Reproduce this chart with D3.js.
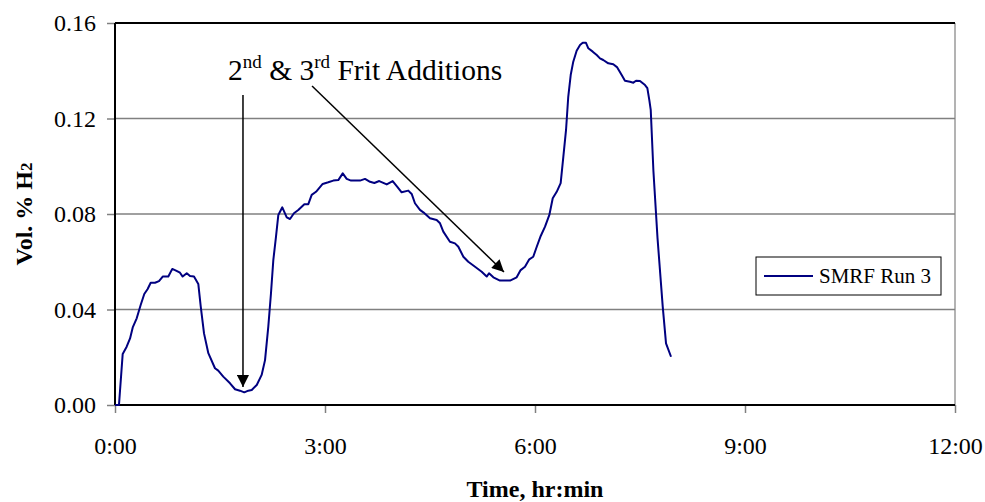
<!DOCTYPE html>
<html>
<head>
<meta charset="utf-8">
<script src="https://cdn.jsdelivr.net/npm/d3@7"></script>
<style>
  body { margin: 0; background: #fff; }
  text { font-family: "Liberation Serif", "Times New Roman", serif; fill: #000; }
</style>
</head>
<body>
<div class="chart"></div>
<script>
// time in minutes since start, H2 in vol. %
var timeMin = [0, 3.4, 6.6, 10.0, 12.9, 15.2, 18.6, 22.0, 25.1, 28.0, 30.6, 34.3, 37.7, 40.9, 45.7, 49.1,
  52.3, 55.7, 58.0, 61.5, 64.3, 67.7, 71.4, 73.5, 76.3, 80.0, 85.7, 88.5, 92.8, 98.6, 102.9, 107.1,
  110.8, 114.3, 117.2, 121.5, 125.7, 128.6, 131.4, 133.7, 135.7, 138.0, 140.0, 143.4, 147.2, 150.0,
  153.4, 157.1, 162.3, 165.7, 168.6, 172.3, 178.0, 182.8, 187.1, 191.4, 195.2, 198.6, 202.3, 210.0,
  214.3, 218.6, 222.3, 226.5, 232.9, 238.0, 242.0, 245.7, 251.4, 254.3, 257.1, 261.4, 264.3, 270.0,
  275.7, 278.6, 281.4, 287.1, 291.4, 294.3, 298.6, 302.8, 308.6, 314.3, 318.6, 320.6, 324.3, 330.0,
  338.6, 344.3, 347.7, 351.4, 355.1, 358.5, 361.5, 364.9, 368.6, 372.3, 375.2, 378.6, 382.0, 384.3,
  386.6, 388.5, 390.6, 392.8, 395.7, 398.6, 400.9, 403.7, 405.7, 409.5, 412.9, 415.7, 418.5, 422.8,
  427.1, 430.5, 434.3, 437.1, 441.4, 444.3, 446.6, 450.0, 454.3, 456.3, 458.0, 459.2, 461.5,
  465.0, 469.5, 472.3, 476.6];
var h2Vol = [0, 0, 0.0214, 0.0244, 0.0279, 0.0325, 0.0363, 0.0419, 0.0465, 0.0486, 0.0512, 0.0512,
  0.0519, 0.0538, 0.0538, 0.0570, 0.0563, 0.0554, 0.0538, 0.0552, 0.0540, 0.0538, 0.0507, 0.0412,
  0.0300, 0.0217, 0.0154, 0.0144, 0.0119, 0.0091, 0.0066, 0.0060, 0.0053, 0.0060, 0.0063, 0.0084,
  0.0126, 0.0188, 0.0328, 0.0468, 0.0607, 0.0705, 0.0796, 0.0828, 0.0786, 0.0779, 0.0803, 0.0817,
  0.0841, 0.0841, 0.0880, 0.0893, 0.0926, 0.0933, 0.0940, 0.0942, 0.0970, 0.0947, 0.0940, 0.0940,
  0.0947, 0.0935, 0.0930, 0.0938, 0.0924, 0.0938, 0.0914, 0.0891, 0.0898, 0.0884, 0.0845, 0.0817,
  0.0807, 0.0782, 0.0775, 0.0761, 0.0726, 0.0684, 0.0677, 0.0663, 0.0621, 0.0600, 0.0579, 0.0558,
  0.0538, 0.0552, 0.0535, 0.0521, 0.0521, 0.0535, 0.0565, 0.0579, 0.0610, 0.0621, 0.0663, 0.0708,
  0.0747, 0.0796, 0.0866, 0.0893, 0.0929, 0.1040, 0.1152, 0.1291, 0.1382, 0.1438, 0.1484, 0.1508,
  0.1517, 0.1517, 0.1494, 0.1480, 0.1466, 0.1452, 0.1445, 0.1431, 0.1427, 0.1414, 0.1382, 0.1358,
  0.1354, 0.1350, 0.1358, 0.1357, 0.1340, 0.1327, 0.1277, 0.1236, 0.0980,
  0.0700, 0.0411, 0.0258, 0.0202];

var xTickHours = [0, 3, 6, 9, 12];
var xTickLabels = ["0:00", "3:00", "6:00", "9:00", "12:00"];
var yTicks = [0, 0.04, 0.08, 0.12, 0.16];
var seriesName = "SMRF Run 3";

var svgWidth = 985;
var svgHeight = 502;
var margin = { top: 23, right: 30, bottom: 97, left: 115 };
var width = svgWidth - margin.left - margin.right;
var height = svgHeight - margin.top - margin.bottom;

var svg = d3.select(".chart")
  .append("svg")
  .attr("width", svgWidth)
  .attr("height", svgHeight);

var chartGroup = svg.append("g")
  .attr("transform", `translate(${margin.left}, ${margin.top})`);

var xScale = d3.scaleLinear().domain([0, 12]).range([0, width]);
var yScale = d3.scaleLinear().domain([0, 0.16]).range([height, 0]);

var data = timeMin.map((t, i) => ({ t: t / 60, v: h2Vol[i] }));

// gridlines
chartGroup.selectAll(".grid")
  .data(yTicks.slice(1, 4))
  .enter()
  .append("line")
  .attr("x1", 0).attr("x2", width)
  .attr("y1", d => yScale(d)).attr("y2", d => yScale(d))
  .attr("stroke", "#808080")
  .attr("stroke-width", 1.5);

// right border
chartGroup.append("line")
  .attr("x1", width).attr("x2", width)
  .attr("y1", 0).attr("y2", height)
  .attr("stroke", "#808080").attr("stroke-width", 1.2);

// axes
var leftAxis = d3.axisLeft(yScale).tickValues(yTicks).tickFormat(d3.format(".2f")).tickSize(8).tickPadding(11);
var bottomAxis = d3.axisBottom(xScale).tickValues(xTickHours)
  .tickFormat((d, i) => xTickLabels[i]).tickSize(8).tickPadding(24);

var yAxisG = chartGroup.append("g").call(leftAxis);
var xAxisG = chartGroup.append("g").attr("transform", `translate(0, ${height})`).call(bottomAxis);

[yAxisG, xAxisG].forEach(function(g) {
  g.select(".domain").remove();
  g.selectAll(".tick line").attr("stroke", "#808080").attr("stroke-width", 1.5);
  g.selectAll(".tick text")
    .style("font-family", "'Liberation Serif', 'Times New Roman', serif")
    .style("font-size", "24px")
    .attr("fill", "#000");
});

// black frame lines: left, bottom, top
chartGroup.append("line").attr("x1", 0).attr("x2", 0).attr("y1", 0).attr("y2", height)
  .attr("stroke", "#000").attr("stroke-width", 2);
chartGroup.append("line").attr("x1", 0).attr("x2", width).attr("y1", height).attr("y2", height)
  .attr("stroke", "#000").attr("stroke-width", 2);
chartGroup.append("line").attr("x1", 0).attr("x2", width).attr("y1", 0).attr("y2", 0)
  .attr("stroke", "#000").attr("stroke-width", 2);

// data line
var line = d3.line().x(d => xScale(d.t)).y(d => yScale(d.v));
chartGroup.append("path")
  .datum(data)
  .attr("d", line)
  .attr("fill", "none")
  .attr("stroke", "#000080")
  .attr("stroke-width", 2)
  .attr("stroke-linejoin", "round");

// annotation arrows (in data coords: hours, vol %)
var arrows = [
  { from: [109.7 / 60, 0.1298], to: [109.7 / 60, 0.0075] },
  { from: [168.9 / 60, 0.1336], to: [333.4 / 60, 0.0557] }
];
svg.append("defs").append("marker")
  .attr("id", "arrowhead")
  .attr("viewBox", "0 0 10 10")
  .attr("refX", 10).attr("refY", 5)
  .attr("markerWidth", 15).attr("markerHeight", 12)
  .attr("markerUnits", "userSpaceOnUse")
  .attr("orient", "auto")
  .append("path")
  .attr("d", "M0,0 L10,5 L0,10 Z")
  .attr("fill", "#000");

chartGroup.selectAll(".arrow")
  .data(arrows)
  .enter()
  .append("line")
  .attr("x1", d => xScale(d.from[0])).attr("y1", d => yScale(d.from[1]))
  .attr("x2", d => xScale(d.to[0])).attr("y2", d => yScale(d.to[1]))
  .attr("stroke", "#000")
  .attr("stroke-width", 1.5)
  .attr("marker-end", "url(#arrowhead)");

// annotation text
var note = chartGroup.append("text")
  .attr("x", xScale(96.9 / 60))
  .attr("y", yScale(0.1361))
  .style("font-size", "29.5px");
note.append("tspan").text("2");
note.append("tspan").attr("dy", -12).style("font-size", "19px").text("nd");
note.append("tspan").attr("dy", 12).text(" & 3");
note.append("tspan").attr("dy", -12).style("font-size", "19px").text("rd");
note.append("tspan").attr("dy", 12).text(" Frit Additions");

// legend
var legend = svg.append("g").attr("transform", "translate(756, 257)");
legend.append("rect")
  .attr("width", 185).attr("height", 38)
  .attr("fill", "#fff").attr("stroke", "#000").attr("stroke-width", 1);
legend.append("line")
  .attr("x1", 8).attr("x2", 57).attr("y1", 19).attr("y2", 19)
  .attr("stroke", "#000080").attr("stroke-width", 2);
legend.append("text")
  .attr("x", 63).attr("y", 26)
  .style("font-size", "21px")
  .text(seriesName);

// axis titles
var yTitle = svg.append("text")
  .attr("transform", `translate(32, ${margin.top + height / 2}) rotate(-90)`)
  .attr("text-anchor", "middle")
  .style("font-size", "24px")
  .style("font-weight", "bold");
yTitle.append("tspan").text("Vol. % H");
yTitle.append("tspan").style("font-size", "17px").text("2");

svg.append("text")
  .attr("x", margin.left + width / 2)
  .attr("y", 497)
  .attr("text-anchor", "middle")
  .style("font-size", "24px")
  .style("font-weight", "bold")
  .text("Time, hr:min");
</script>
</body>
</html>
